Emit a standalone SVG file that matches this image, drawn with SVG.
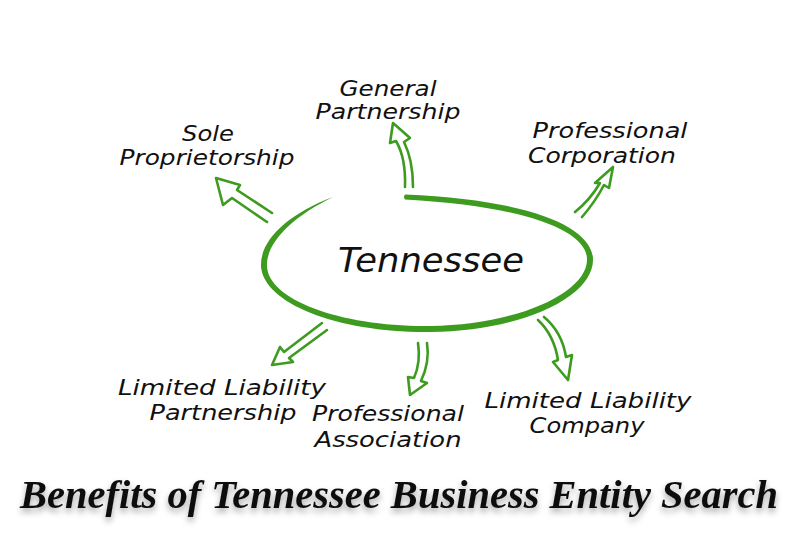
<svg xmlns="http://www.w3.org/2000/svg" width="800" height="533" viewBox="0 0 800 533">
<defs>
<style>
.lbl{font-family:"DejaVu Sans","Noto Sans",sans-serif;font-style:italic;font-size:21px;fill:#111;text-anchor:middle}
.arr{fill:none;stroke:#3d9b1f;stroke-width:2.6;stroke-linejoin:round;stroke-linecap:round}
.ttl{font-family:"Liberation Serif","DejaVu Serif",serif;font-style:italic;font-weight:bold;font-size:40px;fill:#0d0d0d}
</style>
<filter id="sh" x="-5%" y="-30%" width="110%" height="170%">
<feDropShadow dx="0" dy="4" stdDeviation="3" flood-color="#000" flood-opacity="0.35"/>
</filter>
</defs>
<rect width="800" height="533" fill="#fff"/>
<g id="tennessee">
<path d="M 333 197 C 288 214, 260 240, 261 266 C 263 304, 340 333, 430 332 C 522 331, 595 297, 593 258 C 590 226, 530 200, 405 194.5 Q 403 197 405 199.5 C 525 206, 585 230, 587 258 C 589 292, 518 325, 430 326 C 342 327, 268 300, 267 266 C 266 243, 292 217, 333 197 Z" fill="#3d9b1f"/>
<text x="431" y="272" class="lbl" style="font-size:34px" textLength="186" lengthAdjust="spacingAndGlyphs">Tennessee</text>
</g>
<g id="connectors">
<path class="arr" d="M 272 213 L 237 190 L 240 185 L 216 178 L 223 205 L 232 198 L 267 222"/>
<path class="arr" d="M 405 187 Q 406 158 396 141 L 390 143 L 393 123 L 410 138 L 404 142 Q 413 160 413 187"/>
<path class="arr" d="M 575 212 Q 590 200 600 183 L 595 183 L 613 167 L 609 188 L 604 185 Q 595 202 582 217"/>
<path class="arr" d="M 322 323 L 284 352 L 280 347 L 272 365 L 293 362 L 289 358 L 327 330"/>
<path class="arr" d="M 418 343 Q 421 362 414 378 L 408 377 L 410 395 L 427 383 L 421 381 Q 430 362 427 343"/>
<path class="arr" d="M 538 320 Q 554 335 558 360 L 553 362 L 568 380 L 572 355 L 566 357 Q 562 332 544 317"/>
</g>
<g id="general-partnership">
<text x="388" y="96" class="lbl" textLength="97" lengthAdjust="spacingAndGlyphs">General</text>
<text x="388" y="119" class="lbl" textLength="145" lengthAdjust="spacingAndGlyphs">Partnership</text>
</g>
<g id="sole-proprietorship">
<text x="208" y="141" class="lbl" textLength="52" lengthAdjust="spacingAndGlyphs">Sole</text>
<text x="207" y="165" class="lbl" textLength="175" lengthAdjust="spacingAndGlyphs">Proprietorship</text>
</g>
<g id="professional-corporation">
<text x="610" y="138" class="lbl" textLength="155" lengthAdjust="spacingAndGlyphs">Professional</text>
<text x="602" y="163" class="lbl" textLength="148" lengthAdjust="spacingAndGlyphs">Corporation</text>
</g>
<g id="limited-liability-partnership">
<text x="222" y="395" class="lbl" textLength="208" lengthAdjust="spacingAndGlyphs">Limited Liability</text>
<text x="223" y="420" class="lbl" textLength="147" lengthAdjust="spacingAndGlyphs">Partnership</text>
</g>
<g id="professional-association">
<text x="388" y="421" class="lbl" textLength="152" lengthAdjust="spacingAndGlyphs">Professional</text>
<text x="388" y="447" class="lbl" textLength="147" lengthAdjust="spacingAndGlyphs">Association</text>
</g>
<g id="limited-liability-company">
<text x="588" y="408" class="lbl" textLength="207" lengthAdjust="spacingAndGlyphs">Limited Liability</text>
<text x="587" y="433" class="lbl" textLength="115" lengthAdjust="spacingAndGlyphs">Company</text>
</g>
<g id="title">
<text x="399" y="508" class="ttl" text-anchor="middle" textLength="758" lengthAdjust="spacingAndGlyphs" filter="url(#sh)">Benefits of Tennessee Business Entity Search</text>
</g>
</svg>
